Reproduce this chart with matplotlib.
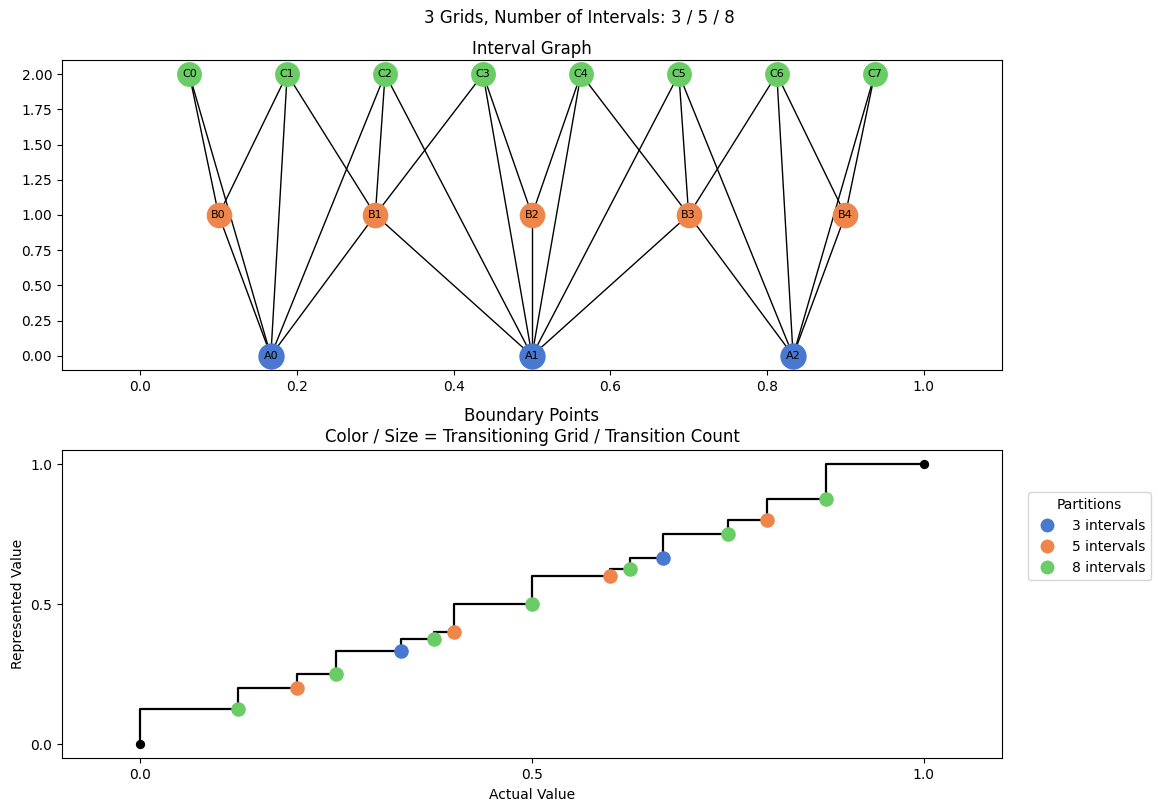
import numpy as np
import matplotlib.pyplot as plt
from matplotlib.lines import Line2D

# ---------------------------------------------------------
# Data
# ---------------------------------------------------------
grid_sizes = [3, 5, 8]
grid_colors = ['#4878d0', '#ee854a', '#6acc64']

# interval-graph nodes (centre of each interval, level = grid index)
a_names = ['A0', 'A1', 'A2']
a_x = [1/6, 3/6, 5/6]
b_names = ['B0', 'B1', 'B2', 'B3', 'B4']
b_x = [0.1, 0.3, 0.5, 0.7, 0.9]
c_names = ['C0', 'C1', 'C2', 'C3', 'C4', 'C5', 'C6', 'C7']
c_x = [1/16, 3/16, 5/16, 7/16, 9/16, 11/16, 13/16, 15/16]

# overlapping intervals
edges = [
    ('A0', 'B0'), ('A0', 'B1'), ('A1', 'B1'), ('A1', 'B2'), ('A1', 'B3'),
    ('A2', 'B3'), ('A2', 'B4'),
    ('A0', 'C0'), ('A0', 'C1'), ('A0', 'C2'), ('A1', 'C2'), ('A1', 'C3'),
    ('A1', 'C4'), ('A1', 'C5'), ('A2', 'C5'), ('A2', 'C6'), ('A2', 'C7'),
    ('B0', 'C0'), ('B0', 'C1'), ('B1', 'C1'), ('B1', 'C2'), ('B1', 'C3'),
    ('B2', 'C3'), ('B2', 'C4'), ('B3', 'C4'), ('B3', 'C5'), ('B3', 'C6'),
    ('B4', 'C6'), ('B4', 'C7'),
]

# boundary points: value and which grid transitions there (-1 = endpoint)
bp_values = [0, 1/8, 1/5, 1/4, 1/3, 3/8, 2/5, 1/2, 3/5, 5/8, 2/3, 3/4, 4/5, 7/8, 1]
bp_grid = [-1, 2, 1, 2, 0, 2, 1, 2, 1, 2, 0, 2, 1, 2, -1]
bp_count = [0, 1, 1, 1, 1, 1, 1, 1, 1, 1, 1, 1, 1, 1, 0]

# ---------------------------------------------------------
# Figure
# ---------------------------------------------------------
fig = plt.figure(figsize=(11.58, 8.11), dpi=100)
ax1 = fig.add_axes([0.0535, 0.544, 0.8118, 0.382])
ax2 = fig.add_axes([0.0535, 0.065, 0.8118, 0.38])
fig.suptitle('3 Grids, Number of Intervals: 3 / 5 / 8', y=0.989, fontsize=12)

# --- interval graph ---
pos = {}
levels = [(a_names, a_x, 0), (b_names, b_x, 1), (c_names, c_x, 2)]
for names, xs, lvl in levels:
    for n, x in zip(names, xs):
        pos[n] = (x, lvl)

for u, v in edges:
    ax1.plot([pos[u][0], pos[v][0]], [pos[u][1], pos[v][1]],
             color='black', lw=1, zorder=1)

node_sizes = [360, 340, 320]
for (names, xs, lvl), col, s in zip(levels, grid_colors, node_sizes):
    ax1.scatter(xs, [lvl] * len(xs), s=s, c=col, zorder=2, linewidths=0)
    for n, x in zip(names, xs):
        ax1.text(x, lvl, n, ha='center', va='center', fontsize=8, zorder=3)

ax1.set_xlim(-0.1, 1.1)
ax1.set_ylim(-0.1, 2.1)
ax1.set_xticks(np.arange(0, 1.01, 0.2))
ax1.set_yticks(np.arange(0, 2.01, 0.25))
ax1.yaxis.set_major_formatter(plt.FormatStrFormatter('%.2f'))
ax1.set_title('Interval Graph', pad=4)

# --- boundary points ---
ax2.step(bp_values, bp_values, where='pre', color='black', lw=1.6, zorder=1)
for v, g, c in zip(bp_values, bp_grid, bp_count):
    if g < 0:
        ax2.scatter(v, v, s=45, c='black', zorder=2, linewidths=0)
    else:
        ax2.scatter(v, v, s=110 * c, c=grid_colors[g], zorder=2, linewidths=0)

ax2.set_xlim(-0.1, 1.1)
ax2.set_ylim(-0.05, 1.05)
ax2.set_xticks([0, 0.5, 1.0])
ax2.set_yticks([0, 0.5, 1.0])
ax2.set_xlabel('Actual Value')
ax2.set_ylabel('Represented Value')
ax2.set_title('Boundary Points\nColor / Size = Transitioning Grid / Transition Count')

handles = [Line2D([], [], marker='o', ls='', markersize=10, color=col,
                  markeredgewidth=0, label=f'{n} intervals')
           for n, col in zip(grid_sizes, grid_colors)]
ax2.legend(handles=handles, title='Partitions', loc='upper left',
           bbox_to_anchor=(1.02, 0.885))

plt.savefig('out.png', dpi=100)
